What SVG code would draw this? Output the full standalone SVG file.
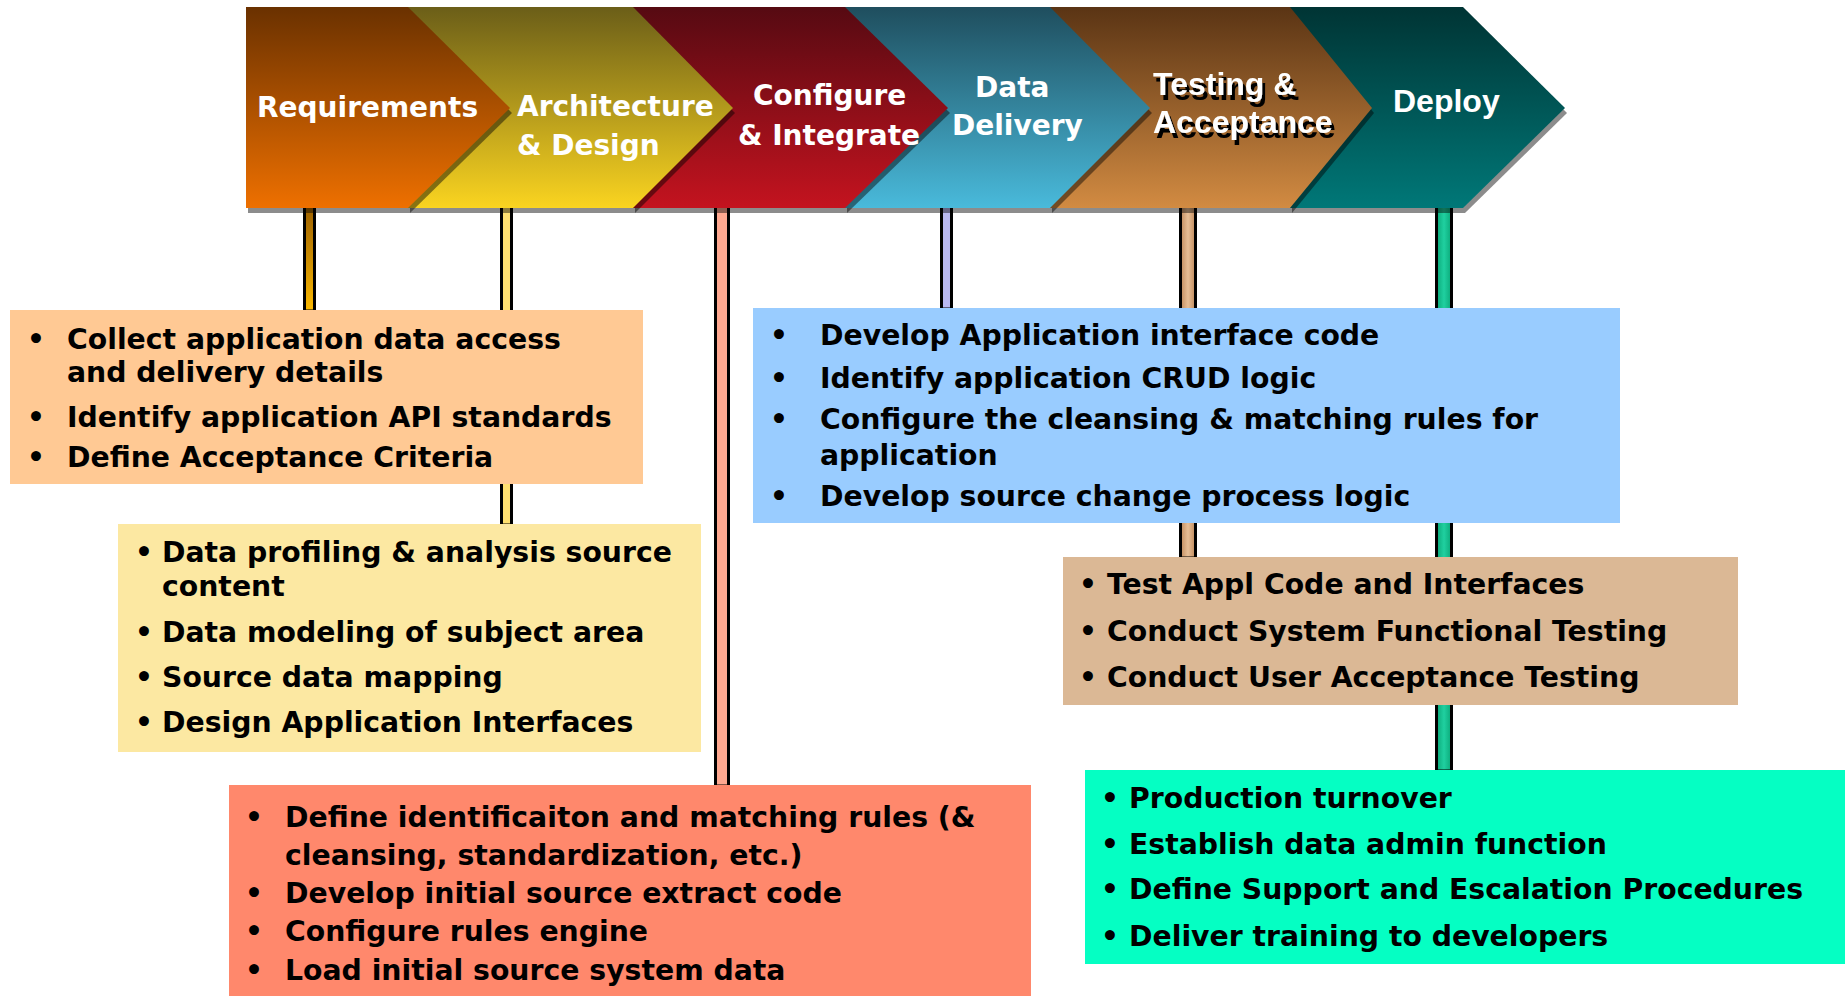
<svg xmlns="http://www.w3.org/2000/svg" width="1845" height="996" viewBox="0 0 1845 996">
<defs>
<linearGradient id="gReq" x1="0" y1="0" x2="0" y2="1"><stop offset="0" stop-color="#6A3100"/><stop offset="1" stop-color="#EE7000"/></linearGradient>
<linearGradient id="gArch" x1="0" y1="0" x2="0" y2="1"><stop offset="0" stop-color="#6B5E18"/><stop offset="1" stop-color="#FAD420"/></linearGradient>
<linearGradient id="gConf" x1="0" y1="0" x2="0" y2="1"><stop offset="0" stop-color="#560A12"/><stop offset="1" stop-color="#C4131F"/></linearGradient>
<linearGradient id="gData" x1="0" y1="0" x2="0" y2="1"><stop offset="0" stop-color="#1F4E5E"/><stop offset="1" stop-color="#49BADB"/></linearGradient>
<linearGradient id="gTest" x1="0" y1="0" x2="0" y2="1"><stop offset="0" stop-color="#5A3414"/><stop offset="1" stop-color="#D28B42"/></linearGradient>
<linearGradient id="gDep" x1="0" y1="0" x2="0" y2="1"><stop offset="0" stop-color="#003434"/><stop offset="1" stop-color="#007878"/></linearGradient>
<linearGradient id="bReq" x1="0" y1="0" x2="0" y2="1"><stop offset="0" stop-color="#9A5E00"/><stop offset="1" stop-color="#FAB800"/></linearGradient>
<linearGradient id="bTest" x1="0" y1="0" x2="1" y2="0"><stop offset="0" stop-color="#C08A5C"/><stop offset="0.5" stop-color="#E6BE96"/><stop offset="1" stop-color="#C08A5C"/></linearGradient>
<linearGradient id="bDep" x1="0" y1="0" x2="1" y2="0"><stop offset="0" stop-color="#0AA878"/><stop offset="0.5" stop-color="#20D0A0"/><stop offset="1" stop-color="#0AA878"/></linearGradient>
<filter id="tshadow" x="-10%" y="-30%" width="130%" height="170%">
<feDropShadow dx="3" dy="5" stdDeviation="0" flood-color="#000" flood-opacity="1"/>
</filter>
</defs>
<style>
.sh{fill:#000;fill-opacity:0.45}
.bar{stroke:#000;stroke-width:3}
.hd{font-family:"DejaVu Sans",Verdana,sans-serif;font-weight:bold;font-size:28px;fill:#fff}
.hd2{font-family:"Liberation Sans",Arial,sans-serif;font-weight:bold;font-size:32px;fill:#fff}
.t{font-family:"DejaVu Sans",Verdana,sans-serif;font-weight:bold;font-size:28.3px;fill:#000}
.bl{font-family:"DejaVu Sans",Verdana,sans-serif;font-weight:bold;font-size:28px;fill:#000;text-anchor:middle}
</style>
<rect width="1845" height="996" fill="#fff"/>

<g id="connectors">
<rect class="bar" x="304.5" y="204" width="10" height="107" fill="url(#bReq)"/>
<rect class="bar" x="501.5" y="204" width="10" height="321" fill="#FFE070"/>
<rect class="bar" x="715.5" y="204" width="13" height="582" fill="#FFA890"/>
<rect class="bar" x="941.5" y="204" width="10" height="105" fill="#B8B8F0"/>
<rect class="bar" x="1180.5" y="204" width="15" height="354" fill="url(#bTest)"/>
<rect class="bar" x="1436.5" y="204" width="15" height="567" fill="url(#bDep)"/>
</g>

<g id="deploy">
<polygon class="sh" points="1292,12 1465,12 1567,113 1465,213 1292,213"/>
<polygon points="1290,7 1463,7 1565,108 1463,208 1290,208" fill="url(#gDep)"/>
<text class="hd2" x="1393" y="112">Deploy</text>
</g>
<g id="testing">
<polygon class="sh" points="1052,12 1292,12 1374,113 1292,213 1052,213"/>
<polygon points="1050,7 1290,7 1372,108 1290,208 1050,208" fill="url(#gTest)"/>
<g filter="url(#tshadow)">
<text class="hd2" x="1153" y="95">Testing &amp;</text>
<text class="hd2" x="1153" y="133">Acceptance</text>
</g>
</g>
<g id="data-delivery">
<polygon class="sh" points="847,12 1052,12 1152,113 1052,213 847,213"/>
<polygon points="845,7 1050,7 1150,108 1050,208 845,208" fill="url(#gData)"/>
<text class="hd" x="975" y="97">Data</text>
<text class="hd" x="952" y="135">Delivery</text>
</g>
<g id="configure">
<polygon class="sh" points="635,12 847,12 950,113 847,213 635,213"/>
<polygon points="633,7 845,7 948,108 845,208 633,208" fill="url(#gConf)"/>
<text class="hd" x="753" y="105">Configure</text>
<text class="hd" x="738" y="145">&amp; Integrate</text>
</g>
<g id="architecture">
<polygon class="sh" points="410,12 635,12 735,113 635,213 410,213"/>
<polygon points="408,7 633,7 733,108 633,208 408,208" fill="url(#gArch)"/>
<text class="hd" x="517" y="116">Architecture</text>
<text class="hd" x="517" y="155">&amp; Design</text>
</g>
<g id="requirements">
<polygon class="sh" points="248,12 410,12 512,113 410,213 248,213"/>
<polygon points="246,7 408,7 510,108 408,208 246,208" fill="url(#gReq)"/>
<text class="hd" x="257" y="117">Requirements</text>
</g>

<g id="box-requirements">
<rect x="10" y="310" width="633" height="174" fill="#FFC994"/>
<text class="bl" x="36" y="349">•</text><text class="t" x="67" y="349">Collect application data access</text>
<text class="t" x="67" y="382">and delivery details</text>
<text class="bl" x="36" y="427">•</text><text class="t" x="67" y="427">Identify application API standards</text>
<text class="bl" x="36" y="467">•</text><text class="t" x="67" y="467">Define Acceptance Criteria</text>
</g>

<g id="box-architecture">
<rect x="118" y="524" width="583" height="228" fill="#FCE8A2"/>
<text class="bl" x="144" y="562">•</text><text class="t" x="162" y="562">Data profiling &amp; analysis source</text>
<text class="t" x="162" y="596">content</text>
<text class="bl" x="144" y="642">•</text><text class="t" x="162" y="642">Data modeling of subject area</text>
<text class="bl" x="144" y="687">•</text><text class="t" x="162" y="687">Source data mapping</text>
<text class="bl" x="144" y="732">•</text><text class="t" x="162" y="732">Design Application Interfaces</text>
</g>

<g id="box-configure">
<rect x="229" y="785" width="802" height="211" fill="#FF886C"/>
<text class="bl" x="254" y="827">•</text><text class="t" x="285" y="827">Define identificaiton and matching rules (&amp;</text>
<text class="t" x="285" y="865">cleansing, standardization, etc.)</text>
<text class="bl" x="254" y="903">•</text><text class="t" x="285" y="903">Develop initial source extract code</text>
<text class="bl" x="254" y="941">•</text><text class="t" x="285" y="941">Configure rules engine</text>
<text class="bl" x="254" y="980">•</text><text class="t" x="285" y="980">Load initial source system data</text>
</g>

<g id="box-data-delivery">
<rect x="753" y="308" width="867" height="215" fill="#99CCFF"/>
<text class="bl" x="779" y="345">•</text><text class="t" x="820" y="345">Develop Application interface code</text>
<text class="bl" x="779" y="388">•</text><text class="t" x="820" y="388">Identify application CRUD logic</text>
<text class="bl" x="779" y="429">•</text><text class="t" x="820" y="429">Configure the cleansing &amp; matching rules for</text>
<text class="t" x="820" y="465">application</text>
<text class="bl" x="779" y="506">•</text><text class="t" x="820" y="506">Develop source change process logic</text>
</g>

<g id="box-testing">
<rect x="1063" y="557" width="675" height="148" fill="#DBB895"/>
<text class="bl" x="1088" y="594">•</text><text class="t" x="1107" y="594">Test Appl Code and Interfaces</text>
<text class="bl" x="1088" y="641">•</text><text class="t" x="1107" y="641">Conduct System Functional Testing</text>
<text class="bl" x="1088" y="687">•</text><text class="t" x="1107" y="687">Conduct User Acceptance Testing</text>
</g>

<g id="box-deploy">
<rect x="1085" y="770" width="760" height="194" fill="#05FFC3"/>
<text class="bl" x="1110" y="808">•</text><text class="t" x="1129" y="808">Production turnover</text>
<text class="bl" x="1110" y="854">•</text><text class="t" x="1129" y="854">Establish data admin function</text>
<text class="bl" x="1110" y="899">•</text><text class="t" x="1129" y="899">Define Support and Escalation Procedures</text>
<text class="bl" x="1110" y="946">•</text><text class="t" x="1129" y="946">Deliver training to developers</text>
</g>
</svg>
